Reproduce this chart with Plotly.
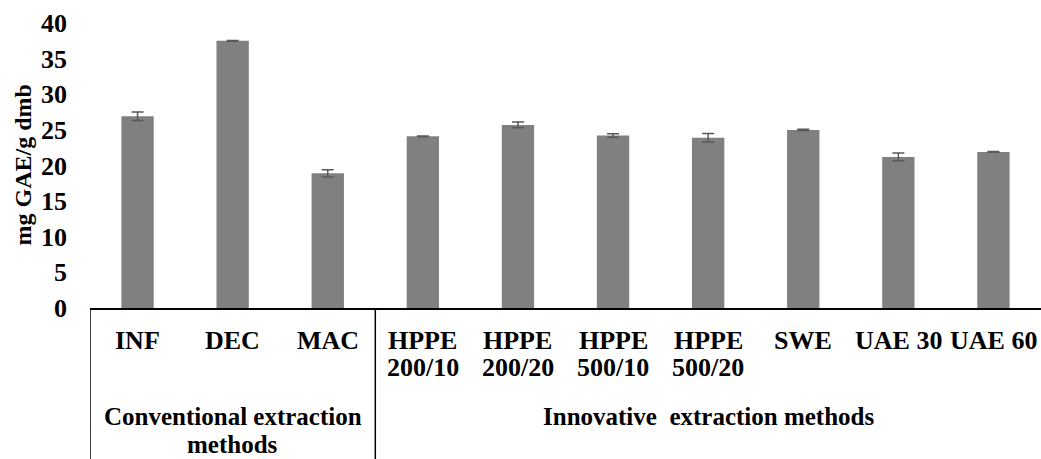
import plotly.graph_objects as go

# ---- data ----
categories = ["INF", "DEC", "MAC", "HPPE 200/10", "HPPE 200/20", "HPPE 500/10",
              "HPPE 500/20", "SWE", "UAE 30", "UAE 60"]
label_line1 = ["INF", "DEC", "MAC", "HPPE", "HPPE", "HPPE", "HPPE", "SWE", "UAE 30", "UAE 60"]
label_line2 = ["", "", "", "200/10", "200/20", "500/10", "500/20", "", "", ""]
values = [26.9, 37.5, 18.9, 24.1, 25.7, 24.2, 23.9, 25.0, 21.2, 21.9]
errors = [0.6, 0.05, 0.5, 0.05, 0.4, 0.25, 0.6, 0.1, 0.55, 0.05]
group_names = ["Conventional extraction", "Innovative  extraction methods"]
y_ticks = [0, 5, 10, 15, 20, 25, 30, 35, 40]
y_title = "mg GAE/g dmb"

FONT = "Liberation Serif"
W, H = 1041, 459
L, R, T, B = 90, 0, 23, 151

fig = go.Figure()
fig.add_trace(go.Bar(
    x=categories, y=values,
    marker=dict(color="#808080", line=dict(width=0)),
    width=0.34,
    error_y=dict(type="data", array=errors, color="#595959", thickness=1.5, width=6),
    showlegend=False,
))

fig.update_layout(
    width=W, height=H,
    margin=dict(l=L, r=R, t=T, b=B, pad=0),
    paper_bgcolor="white", plot_bgcolor="white",
    font=dict(family=FONT, color="black"),
    xaxis=dict(
        type="category", range=[-0.5, len(categories) - 0.5],
        showticklabels=False, ticks="", showgrid=False, zeroline=False,
        showline=True, linecolor="black", linewidth=1.5,
    ),
    yaxis=dict(
        range=[0, 40], tickvals=y_ticks, ticktext=[str(v) for v in y_ticks],
        showgrid=False, zeroline=False, showline=False, ticks="",
        tickfont=dict(family=FONT, size=26, color="black", weight="bold"),
        ticklabelstandoff=22,
    ),
)

# y-axis title
fig.add_annotation(
    xref="paper", yref="paper", x=0, y=0.5, xshift=-68,
    text=y_title, textangle=-90, showarrow=False,
    xanchor="center", yanchor="middle",
    font=dict(family=FONT, size=24, color="black", weight="bold"),
)

LBL = dict(family=FONT, size=26, color="black", weight="bold")
GRP = dict(family=FONT, size=25, color="black", weight="bold")

def label(x, text, yshift, font=LBL):
    fig.add_annotation(
        xref="x", yref="paper", x=x, y=0, yshift=yshift, height=26,
        text=text, showarrow=False, xanchor="center", yanchor="middle", font=font,
    )

# category labels
for cat, l1, l2 in zip(categories, label_line1, label_line2):
    label(cat, l1, -32)
    if l2:
        label(cat, l2, -59)

# group labels
label(categories[1], group_names[0], -108, GRP)
label(categories[1], "methods", -136, GRP)
label(categories[6], group_names[1], -108, GRP)

# separator lines of the grouped category axis
for xv in [-0.5, 2.5]:
    fig.add_shape(
        type="line", xref="x", yref="paper", x0=xv, x1=xv, y0=0, y1=-0.7,
        line=dict(color="black", width=1.5),
    )

fig.write_html(
    "out.html",
    config={"displayModeBar": False},
    post_script="document.body.style.margin='0';document.body.style.overflow='hidden';",
)
